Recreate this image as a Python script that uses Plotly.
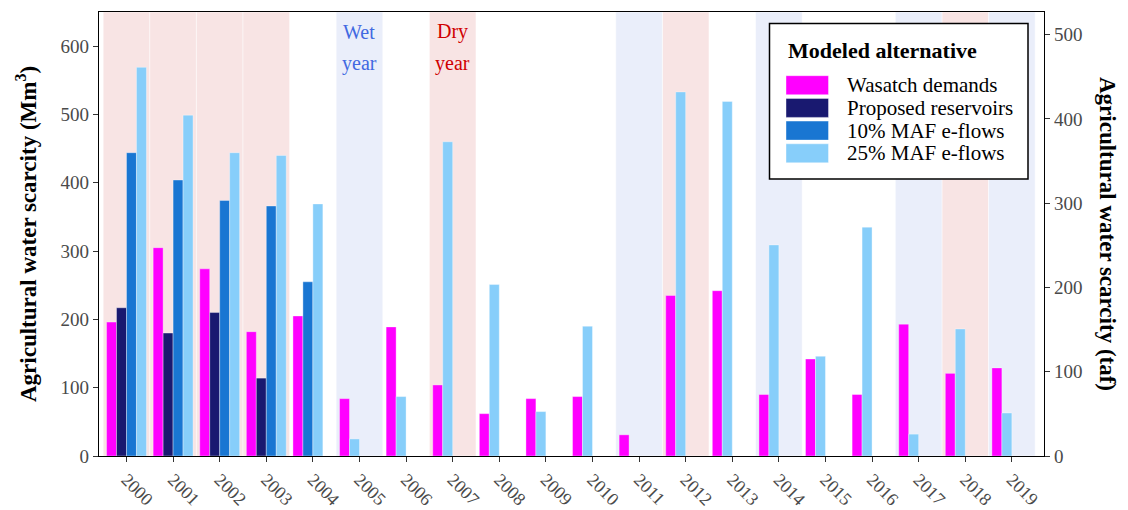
import plotly.graph_objects as go

# Water years and modeled agricultural water scarcity (Mm^3); None = not simulated
years = list(range(2000, 2020))
wasatch_demands = [196, 305, 274, 182, 205, 84, 189, 104, 62, 84,
                   87, 31, 235, 242, 90, 142, 90, 193, 121, 129]
proposed_reservoirs = [217, 180, 210, 114, None, None, None, None, None, None,
                       None, None, None, None, None, None, None, None, None, None]
maf10_eflows = [444, 404, 374, 366, 255, None, None, None, None, None,
                None, None, None, None, None, None, None, None, None, None]
maf25_eflows = [569, 499, 444, 440, 369, 25, 87, 460, 251, 65,
                190, 0, 533, 519, 309, 146, 335, 32, 186, 63]

series_names = ["Wasatch demands", "Proposed reservoirs", "10% MAF e-flows", "25% MAF e-flows"]
series_values = [wasatch_demands, proposed_reservoirs, maf10_eflows, maf25_eflows]
series_colors = ["#FF00FF", "#191970", "#1976D2", "#87CEFA"]

dry_years = [2000, 2001, 2002, 2003, 2007, 2012, 2018]
wet_years = [2005, 2011, 2014, 2017, 2019]

tick_labels = [str(y) for y in years]
MM3_TO_TAF = 0.810713
Y_MAX = 650
BAR_W = 0.214

FONT = "Liberation Serif, Times New Roman, serif"

# Bars present in a year are packed side by side from the left of a 4-slot group
positions = {name: [] for name in series_names}
for i, yr in enumerate(years):
    slot = 0
    for name, vals in zip(series_names, series_values):
        if vals[i] is None:
            positions[name].append(None)
        else:
            positions[name].append(yr + (slot - 1.5) * BAR_W)
            slot += 1

fig = go.Figure()
for name, vals, color in zip(series_names, series_values, series_colors):
    xs, ys = [], []
    for x, v in zip(positions[name], vals):
        if x is not None:
            xs.append(x)
            ys.append(v)
    fig.add_trace(go.Bar(
        x=xs, y=ys, width=BAR_W, name=name,
        marker=dict(color=color, line=dict(color="rgba(255,255,255,0.45)", width=0.8)),
        showlegend=False,
    ))

# secondary axis in thousand acre-feet
fig.add_trace(go.Scatter(x=[None], y=[None], yaxis="y2", showlegend=False, hoverinfo="skip"))

shapes = []
for yr in dry_years:
    shapes.append(dict(type="rect", xref="x", yref="paper", x0=yr - 0.5, x1=yr + 0.5, y0=0, y1=1,
                       fillcolor="#F8E4E4", line=dict(color="rgba(255,255,255,0.6)", width=0.8),
                       layer="below"))
for yr in wet_years:
    shapes.append(dict(type="rect", xref="x", yref="paper", x0=yr - 0.5, x1=yr + 0.5, y0=0, y1=1,
                       fillcolor="#EAEEFA", line=dict(color="rgba(255,255,255,0.6)", width=0.8),
                       layer="below"))

# plot area geometry in pixels (for the hand-drawn legend)
L, R, T, B = 99, 84, 12, 54
W, H = 1128, 510
pw, ph = W - L - R, H - T - B


def px(x):
    return (x - L) / pw


def py(y):
    return (H - B - y) / ph


shapes.append(dict(type="rect", xref="paper", yref="paper",
                   x0=px(769.5), x1=px(1028), y0=py(179), y1=py(23.5),
                   fillcolor="white", line=dict(color="black", width=1.5), layer="above"))

annotations = []
annotations.append(dict(xref="paper", yref="paper", x=px(786), y=py(50), xanchor="left", yanchor="middle",
                        text="<b>Modeled alternative</b>", showarrow=False,
                        font=dict(family=FONT, size=22, color="black")))
row_tops = [75.7, 98.4, 121.1, 143.8]
for name, color, top in zip(series_names, series_colors, row_tops):
    shapes.append(dict(type="rect", xref="paper", yref="paper",
                       x0=px(786), x1=px(828.5), y0=py(top + 19), y1=py(top),
                       fillcolor=color, line=dict(color="rgba(255,255,255,0.5)", width=0.8),
                       layer="above"))
    annotations.append(dict(xref="paper", yref="paper", x=px(845), y=py(top + 9.5),
                            xanchor="left", yanchor="middle", text=name, showarrow=False,
                            font=dict(family=FONT, size=21, color="black")))

# wet / dry year markers
for label, yy in (("Wet", 31.5), ("year", 63)):
    annotations.append(dict(xref="x", yref="paper", x=2005, y=py(yy), xanchor="center", yanchor="middle",
                            text=label, showarrow=False, font=dict(family=FONT, size=20, color="#4169E1")))
for label, yy in (("Dry", 31.5), ("year", 63)):
    annotations.append(dict(xref="x", yref="paper", x=2007, y=py(yy), xanchor="center", yanchor="middle",
                            text=label, showarrow=False, font=dict(family=FONT, size=20, color="#D00000")))

# axis titles
annotations.append(dict(xref="paper", yref="paper", x=px(26), y=0.5, xanchor="center", yanchor="middle",
                        textangle=-90, showarrow=False,
                        text="<b>Agricultural water scarcity (Mm<sup>3</sup>)</b>",
                        font=dict(family=FONT, size=23, color="black")))
annotations.append(dict(xref="paper", yref="paper", x=px(1108), y=0.5, xanchor="center", yanchor="middle",
                        textangle=90, showarrow=False,
                        text="<b>Agricultural water scarcity (taf)</b>",
                        font=dict(family=FONT, size=23, color="black")))

tick_font = dict(family=FONT, size=19, color="#4a4a4a")
xtick_font = dict(family=FONT, size=18, color="#4a4a4a")

fig.update_layout(
    width=W, height=H,
    margin=dict(l=L, r=R, t=T, b=B, pad=0, autoexpand=False),
    plot_bgcolor="white", paper_bgcolor="white",
    font=dict(family=FONT),
    barmode="overlay",
    shapes=shapes, annotations=annotations,
    xaxis=dict(range=[1999.41, 2019.69], tickmode="array", tickvals=years, ticktext=tick_labels,
               tickangle=45, tickfont=xtick_font, ticks="outside", ticklen=5, tickcolor="#333",
               showline=True, linecolor="black", linewidth=1.3, mirror=True,
               showgrid=False, zeroline=False, automargin=False),
    yaxis=dict(range=[0, Y_MAX], tickmode="array", tickvals=[0, 100, 200, 300, 400, 500, 600],
               tickfont=tick_font, ticks="outside", ticklen=5, tickcolor="#333",
               showline=True, linecolor="black", linewidth=1.3,
               showgrid=False, zeroline=False, automargin=False),
    yaxis2=dict(range=[0, Y_MAX * MM3_TO_TAF], overlaying="y", side="right",
                tickmode="array", tickvals=[0, 100, 200, 300, 400, 500],
                tickfont=tick_font, ticks="outside", ticklen=5, tickcolor="#333",
                showline=True, linecolor="black", linewidth=1.3,
                showgrid=False, zeroline=False, automargin=False),
)

fig.write_html("out.html")
